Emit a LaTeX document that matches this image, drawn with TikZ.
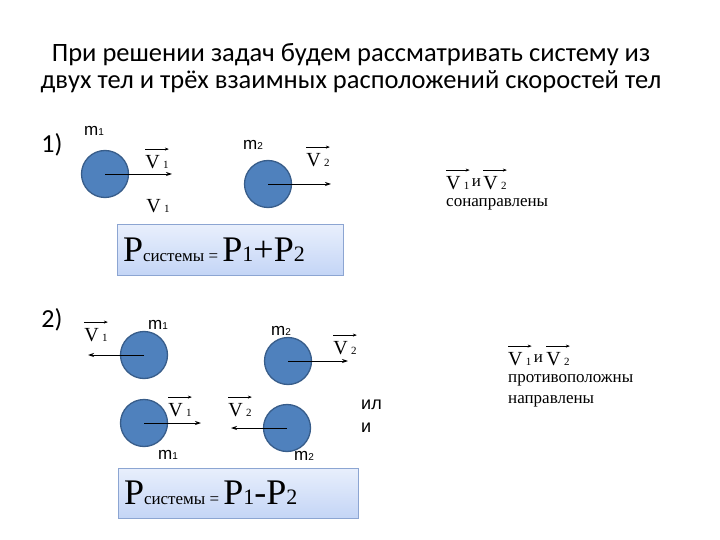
\documentclass[tikz,border=0pt]{standalone}
\usepackage{fontspec}
\setmainfont{Liberation Serif}
\newfontfamily\massfont{Liberation Sans}
\newfontfamily\titlefont{Carlito}
\usetikzlibrary{arrows.meta, positioning}
\definecolor{ballfill}{RGB}{79,129,189}
\definecolor{ballline}{RGB}{56,93,138}
\definecolor{boxtop}{RGB}{232,239,252}
\definecolor{boxbot}{RGB}{196,213,246}
\definecolor{boxline}{RGB}{140,165,210}
\newcommand{\idx}[1]{\,{\fontsize{11}{11}\selectfont #1}}
\newcommand{\bigsub}[1]{{\fontsize{22}{22}\selectfont #1}}
\newcommand{\msub}[1]{{\fontsize{10}{10}\selectfont #1}}

\tikzstyle{ball} = [circle, draw=ballline, fill=ballfill, line width=1.3pt, minimum size=47pt, inner sep=0pt]
\tikzstyle{vel} = [-{Stealth[length=6pt,width=4pt]}, line width=0.8pt]
\tikzstyle{mass} = [font=\massfont\fontsize{17}{17}\selectfont, inner sep=0pt]
\tikzstyle{plain} = [font=\fontsize{20}{20}\selectfont, inner sep=0pt]
\tikzstyle{vlab} = [plain, append after command={([yshift=6pt]\tikzlastnode.north west) edge[-{Stealth[length=4pt,width=3pt]}, line width=0.6pt] ([yshift=6pt]\tikzlastnode.north east)}]
\tikzstyle{note} = [font=\fontsize{17}{21}\selectfont, inner sep=0pt, align=left]
\tikzstyle{psum} = [rectangle, draw=boxline, line width=1pt, top color=boxtop, bottom color=boxbot, minimum height=50pt, inner sep=6pt, align=flush left, font=\fontsize{36}{36}\selectfont]

\begin{document}
\begin{tikzpicture}[x=1pt, y=-1pt]
\useasboundingbox (0,0) rectangle (720,540);

\node (title) [font=\titlefont\fontsize{26.5}{27}\selectfont, align=center] at (351,68) {При решении задач будем рассматривать систему из\\двух тел и трёх взаимных расположений скоростей тел};
\node (n1) [font=\titlefont\fontsize{26}{26}\selectfont] at (52,145) {1)};
\node (n2) [font=\titlefont\fontsize{26}{26}\selectfont] at (52,320) {2)};

%% case 1
\node (b1) [ball] at (105,174) {};
\node (b2) [ball] at (268,184) {};
\coordinate (e1) at (172,174);
\coordinate (e2) at (331,184);
\node (m1) [mass] at (94,131) {m\msub{1}};
\node (m2) [mass] at (253,145) {m\msub{2}};
\node (v1) [vlab] at (157,162) {V\idx{1}};
\node (v2) [vlab] at (318,160) {V\idx{2}};
\node (v1b) [plain] at (158,206) {V\idx{1}};

\node (r1a) [vlab, anchor=west] at (446,183) {V\idx{1}};
\node (r1i) [note, right=2pt of r1a] {и};
\node (r1b) [vlab, right=2pt of r1i] {V\idx{2}};
\node (r1t) [note, anchor=north west] at (446,198) {сонаправлены};

\node (s1) [psum, text width=214pt] at (230,250) {P{\fontsize{17}{17}\selectfont системы = }P\bigsub{1}+P\bigsub{2}};

%% case 2
\node (c1) [ball] at (144,355) {};
\node (c2) [ball] at (288,361) {};
\node (c3) [ball] at (144,423) {};
\node (c4) [ball] at (287,428) {};
\coordinate (f1) at (88,355);
\coordinate (f2) at (348,361);
\coordinate (f3) at (201,423);
\coordinate (f4) at (231,428);
\node (mc1) [mass] at (158,325) {m\msub{1}};
\node (mc2) [mass] at (281,331) {m\msub{2}};
\node (mc3) [mass] at (168,455) {m\msub{1}};
\node (mc4) [mass] at (304,456) {m\msub{2}};
\node (w1) [vlab] at (96,335) {V\idx{1}};
\node (w2) [vlab] at (345,348) {V\idx{2}};
\node (w3) [vlab] at (180,410) {V\idx{1}};
\node (w4) [vlab] at (240,410) {V\idx{2}};
\node (ili) [mass, font=\massfont\fontsize{18}{23}\selectfont, align=left, anchor=west] at (361,416) {ил\\и};

\node (r2a) [vlab, anchor=west] at (508,359) {V\idx{1}};
\node (r2i) [note, right=2pt of r2a] {и};
\node (r2b) [vlab, right=3pt of r2i] {V\idx{2}};
\node (r2t) [note, anchor=north west] at (508,374) {противоположны\\направлены};

\node (s2) [psum, text width=228pt] at (238,493) {P{\fontsize{17}{17}\selectfont системы = }P\bigsub{1}-P\bigsub{2}};

%% velocity arrows
\draw [vel] (b1.center) -- (e1);
\draw [vel] (b2.center) -- (e2);
\draw [vel] (c1.center) -- (f1);
\draw [vel] (c2.center) -- (f2);
\draw [vel] (c3.center) -- (f3);
\draw [vel] (c4.center) -- (f4);

\end{tikzpicture}
\end{document}
